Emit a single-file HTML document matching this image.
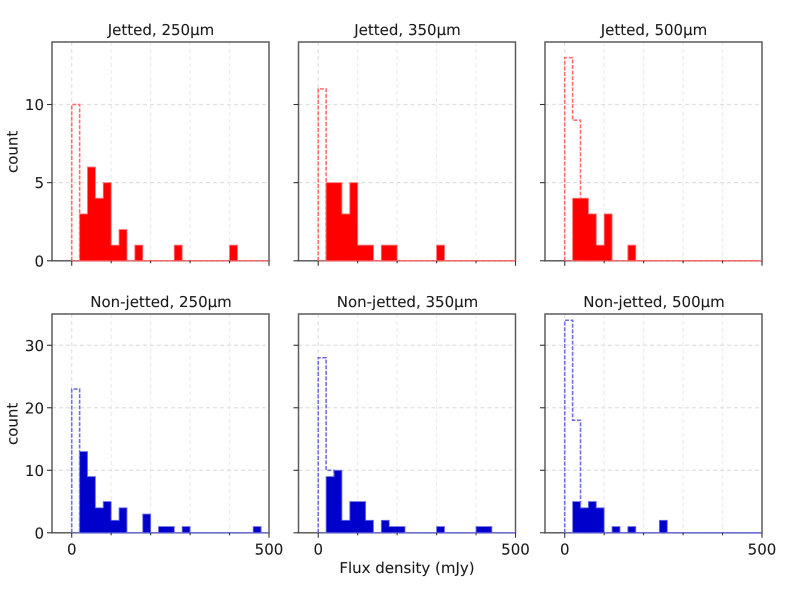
<!DOCTYPE html>
<html lang="en">
<head>
<meta charset="utf-8">
<title>Flux density histograms</title>
<style>
html,body{margin:0;padding:0;background:#fff;}
body{width:789px;height:592px;overflow:hidden;}
svg{display:block;filter:blur(0.35px);}
text{font-family:"DejaVu Sans","Liberation Sans",sans-serif;fill:#1a1a1a;stroke:#1a1a1a;stroke-width:0.08px;text-rendering:geometricPrecision;}
</style>
</head>
<body>
<svg id="chart" width="789" height="592" viewBox="0 0 789 592" xmlns="http://www.w3.org/2000/svg"></svg>
<script>
// Counts per 20 mJy bin, starting at 0 mJy (25 bins).
const jetted250Detected = [0,3,6,4,5,1,2,0,1,0,0,0,0,1,0,0,0,0,0,0,1,0,0,0,0];
const jetted250Upper    = [10,0,0,0,0,0,0,0,0,0,0,0,0,0,0,0,0,0,0,0,0,0,0,0,0];
const jetted350Detected = [0,5,5,3,5,1,1,0,1,1,0,0,0,0,0,1,0,0,0,0,0,0,0,0,0];
const jetted350Upper    = [11,0,0,0,0,0,0,0,0,0,0,0,0,0,0,0,0,0,0,0,0,0,0,0,0];
const jetted500Detected = [0,4,4,3,1,3,0,0,1,0,0,0,0,0,0,0,0,0,0,0,0,0,0,0,0];
const jetted500Upper    = [13,9,0,0,0,0,0,0,0,0,0,0,0,0,0,0,0,0,0,0,0,0,0,0,0];
const nonJetted250Detected = [0,13,9,4,5,2,4,0,0,3,0,1,1,0,1,0,0,0,0,0,0,0,0,1,0];
const nonJetted250Upper    = [23,0,0,0,0,0,0,0,0,0,0,0,0,0,0,0,0,0,0,0,0,0,0,0,0];
const nonJetted350Detected = [0,9,10,2,5,5,2,0,2,1,1,0,0,0,0,1,0,0,0,0,1,1,0,0,0];
const nonJetted350Upper    = [28,10,0,0,0,0,0,0,0,0,0,0,0,0,0,0,0,0,0,0,0,0,0,0,0];
const nonJetted500Detected = [0,5,4,5,4,0,1,0,1,0,0,0,2,0,0,0,0,0,0,0,0,0,0,0,0];
const nonJetted500Upper    = [34,18,0,0,0,0,0,0,0,0,0,0,0,0,0,0,0,0,0,0,0,0,0,0,0];

const binWidth = 20;
const xMajorTicks = [0, 500];
const xMinorTicks = [100, 200, 300, 400];
const jettedYTicks = [0, 5, 10];
const nonJettedYTicks = [0, 10, 20, 30];
const panelTitles = ["Jetted, 250µm","Jetted, 350µm","Jetted, 500µm","Non-jetted, 250µm","Non-jetted, 350µm","Non-jetted, 500µm"];
const xDomain = [-50, 500];
const jettedYDomain = [0, 14];
const nonJettedYDomain = [0, 35];

const NS = 'http://www.w3.org/2000/svg';
const svg = document.getElementById('chart');

function mk(parent, tag, attrs, text) {
  const el = document.createElementNS(NS, tag);
  for (const k in attrs) el.setAttribute(k, attrs[k]);
  if (text !== undefined) el.textContent = text;
  parent.appendChild(el);
  return el;
}

function stepPath(counts, sx, sy) {
  let d = 'M' + sx(0) + ' ' + sy(0);
  counts.forEach(function (c, i) {
    d += 'L' + sx(i * binWidth) + ' ' + sy(c) + 'L' + sx((i + 1) * binWidth) + ' ' + sy(c);
  });
  d += 'L' + sx(counts.length * binWidth) + ' ' + sy(0);
  return d;
}

function drawPanel(cfg) {
  const W = 217, H = 218.8;
  const sx = function (v) { return cfg.left + (v - xDomain[0]) / (xDomain[1] - xDomain[0]) * W; };
  const sy = function (v) { return cfg.top + H - (v - cfg.yDomain[0]) / (cfg.yDomain[1] - cfg.yDomain[0]) * H; };
  const bottom = cfg.top + H;

  const g = mk(svg, 'g', {});
  
  

  const title = mk(g, 'text', {x: cfg.left + W / 2 + 0.5, y: cfg.top - 7.2, 'text-anchor': 'middle', 'font-size': 15}, cfg.title);
  
  

  // grid
  xMinorTicks.forEach(function (t) {
    const l = mk(g, 'line', {x1: sx(t), x2: sx(t), y1: cfg.top, y2: bottom, stroke: '#ededed', 'stroke-width': 1.2, 'stroke-dasharray': '4 3'});
    
    
  });
  xMajorTicks.forEach(function (t) {
    const l = mk(g, 'line', {x1: sx(t), x2: sx(t), y1: cfg.top, y2: bottom, stroke: '#e0e0e0', 'stroke-width': 1.2, 'stroke-dasharray': '4 3'});
    
    
  });
  cfg.yTicks.forEach(function (t) {
    const l = mk(g, 'line', {x1: cfg.left, x2: cfg.left + W, y1: sy(t), y2: sy(t), stroke: '#e0e0e0', 'stroke-width': 1.2, 'stroke-dasharray': '4 3'});
    
    
  });

  // frame sits beneath the histograms so the coloured baseline shows through
  const frame = mk(g, 'rect', {x: cfg.left, y: cfg.top, width: W, height: H, fill: 'none', stroke: '#5c5c5c', 'stroke-width': 1.5});
  
  

  // upper limits (dashed outline)
  const upper = mk(g, 'path', {d: stepPath(cfg.upper, sx, sy), fill: 'none', stroke: cfg.edge, 'stroke-width': 1.6, 'stroke-dasharray': '4 1.6'});
  
  

  // detections (filled)
  const det = mk(g, 'path', {d: stepPath(cfg.detected, sx, sy) + 'Z', fill: cfg.fill, stroke: cfg.edge, 'stroke-width': 0.9});
  
  

  // y ticks
  cfg.yTicks.forEach(function (t) {
    const l = mk(g, 'line', {x1: cfg.left - 5, x2: cfg.left, y1: sy(t), y2: sy(t), stroke: '#333', 'stroke-width': 1.1});
    
    
    if (cfg.showY) {
      const lb = mk(g, 'text', {x: cfg.left - 8, y: sy(t) + 5.5, 'text-anchor': 'end', 'font-size': 15}, String(t));
      
      
    }
  });

  // x ticks
  xMinorTicks.forEach(function (t) {
    const l = mk(g, 'line', {x1: sx(t), x2: sx(t), y1: bottom, y2: bottom + 2.5, stroke: '#333', 'stroke-width': 1.1});
    
    
  });
  xMajorTicks.forEach(function (t) {
    const l = mk(g, 'line', {x1: sx(t), x2: sx(t), y1: bottom, y2: bottom + 5, stroke: '#333', 'stroke-width': 1.1});
    
    
    if (cfg.showX) {
      const lb = mk(g, 'text', {x: sx(t), y: bottom + 21.8, 'text-anchor': 'middle', 'font-size': 15}, String(t));
      
      
    }
  });

  if (cfg.showY) {
    const cy = cfg.top + H / 2 + 0.5;
    const yl = mk(g, 'text', {x: 17.5, y: cy, 'text-anchor': 'middle', 'font-size': 15, transform: 'rotate(-90 17.5 ' + cy + ')'}, 'count');
    
    
  }
}

const RED = {fill: '#ff0000', edge: '#ff6f6f'};
const BLUE = {fill: '#0000cd', edge: '#6f6fe0'};
const colLefts = [52, 298.5, 545];
const rowTops = [42, 314];

drawPanel({name:'panel-jetted-250', title:panelTitles[0], left:colLefts[0], top:rowTops[0], yDomain:jettedYDomain, yTicks:jettedYTicks, detected:jetted250Detected, upper:jetted250Upper, fill:RED.fill, edge:RED.edge, showY:true, showX:false});
drawPanel({name:'panel-jetted-350', title:panelTitles[1], left:colLefts[1], top:rowTops[0], yDomain:jettedYDomain, yTicks:jettedYTicks, detected:jetted350Detected, upper:jetted350Upper, fill:RED.fill, edge:RED.edge, showY:false, showX:false});
drawPanel({name:'panel-jetted-500', title:panelTitles[2], left:colLefts[2], top:rowTops[0], yDomain:jettedYDomain, yTicks:jettedYTicks, detected:jetted500Detected, upper:jetted500Upper, fill:RED.fill, edge:RED.edge, showY:false, showX:false});
drawPanel({name:'panel-non-jetted-250', title:panelTitles[3], left:colLefts[0], top:rowTops[1], yDomain:nonJettedYDomain, yTicks:nonJettedYTicks, detected:nonJetted250Detected, upper:nonJetted250Upper, fill:BLUE.fill, edge:BLUE.edge, showY:true, showX:true});
drawPanel({name:'panel-non-jetted-350', title:panelTitles[4], left:colLefts[1], top:rowTops[1], yDomain:nonJettedYDomain, yTicks:nonJettedYTicks, detected:nonJetted350Detected, upper:nonJetted350Upper, fill:BLUE.fill, edge:BLUE.edge, showY:false, showX:true});
drawPanel({name:'panel-non-jetted-500', title:panelTitles[5], left:colLefts[2], top:rowTops[1], yDomain:nonJettedYDomain, yTicks:nonJettedYTicks, detected:nonJetted500Detected, upper:nonJetted500Upper, fill:BLUE.fill, edge:BLUE.edge, showY:false, showX:true});

const xTitle = mk(svg, 'text', {x: 407, y: 573, 'text-anchor': 'middle', 'font-size': 15}, 'Flux density (mJy)');


</script>
</body>
</html>
